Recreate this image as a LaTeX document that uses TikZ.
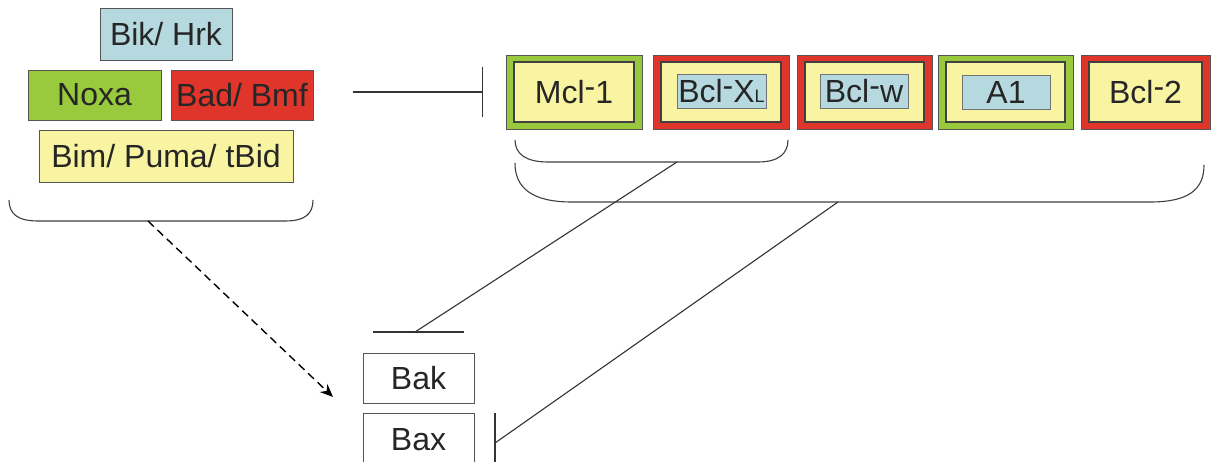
\documentclass[tikz,border=0pt]{standalone}
\usepackage{fontspec}
\setmainfont{Liberation Sans}
\usetikzlibrary{arrows.meta}
\definecolor{lblue}{HTML}{B5D9DF}
\definecolor{lgreen}{HTML}{99C93C}
\definecolor{lred}{HTML}{E0352B}
\definecolor{lyellow}{HTML}{F8F4A2}
\definecolor{edge}{HTML}{555555}
\newcommand{\hy}{\raisebox{0.2em}{-}}
\tikzset{
  box/.style={draw=edge, line width=0.9pt, inner sep=0pt, text=black!85, font=\fontsize{32}{32}\selectfont},
  frame/.style={draw=edge, line width=0.9pt, inner sep=0pt, minimum height=74pt},
  inner/.style={draw=black!75, line width=1.3pt, fill=lyellow, inner sep=0pt, minimum height=60pt, text=black!85, font=\fontsize{32}{32}\selectfont},
  tag/.style={draw=black!55, line width=0.8pt, fill=lblue, inner sep=0pt, minimum height=34pt, text=black!85, font=\fontsize{32}{32}\selectfont},
  conn/.style={line width=1.1pt, draw=black!80},
  brace/.style={line width=1.1pt, draw=black!75},
}
\begin{document}
\begin{tikzpicture}[x=1pt,y=-1pt]
\clip (0,0) rectangle (1211,462);
\fill[white] (0,0) rectangle (1211,462);
% left group
\node[box, fill=lblue, minimum width=132pt, minimum height=52pt] (bik) at (166,34) {Bik/ Hrk};
\node[box, fill=lgreen, minimum width=133pt, minimum height=50pt] (noxa) at (94.5,95) {Noxa};
\node[box, fill=lred, minimum width=142pt, minimum height=50pt] (bad) at (242,95) {Bad/ Bmf};
\node[box, fill=lyellow, minimum width=254pt, minimum height=52pt] (bim) at (166,156) {Bim/ Puma/ tBid};
\draw[brace] (9,200) .. controls (9,214) and (18,221) .. (38,221) -- (285,221) .. controls (305,221) and (313,214) .. (313,200);
\coordinate (lb) at (148,221);
% right frames
\node[frame, fill=lgreen, minimum width=136pt] (mclF) at (574,92) {};
\node[inner, minimum width=120pt] (mcl) at (574,92) {Mcl\hy1};
\node[frame, fill=lred, minimum width=136pt] (bxlF) at (721,92) {};
\node[inner, minimum width=120pt] (bxlY) at (721,92) {};
\node[tag, minimum width=89pt] (bxl) at (721.5,91) {Bcl\hy X{\fontsize{18}{18}\selectfont L}};
\node[frame, fill=lred, minimum width=135pt] (bwF) at (864.5,92) {};
\node[inner, minimum width=119pt] (bwY) at (864.5,92) {};
\node[tag, minimum width=88pt] (bw) at (864,91) {Bcl\hy w};
\node[frame, fill=lgreen, minimum width=135pt] (a1F) at (1005.5,92) {};
\node[inner, minimum width=119pt] (a1Y) at (1005.5,92) {};
\node[tag, minimum width=88pt] (a1) at (1006,92) {A1};
\node[frame, fill=lred, minimum width=129pt] (b2F) at (1145.5,92) {};
\node[inner, minimum width=113pt] (b2) at (1145.5,92) {Bcl\hy2};
% inhibition from left group to frames
\coordinate (inhL) at (353,92);
\coordinate (inhR) at (483,92);
\draw[conn, -{Bar[width=50pt,line width=1.1pt]}] (inhL) -- (inhR);
% right braces
\draw[brace] (515,140) .. controls (515,154) and (526,162) .. (548,162) -- (758,162) .. controls (778,162) and (788,154) .. (788,140);
\draw[brace] (515,163) .. controls (515,188) and (532,202) .. (572,202) -- (1150,202) .. controls (1188,202) and (1204,190) .. (1204,165);
\coordinate (sb) at (677,162);
\coordinate (bb) at (838,202);
% Bak / Bax
\node[box, fill=white, minimum width=111pt, minimum height=50pt] (bak) at (418.5,378) {Bak};
\node[box, fill=white, minimum width=111pt, minimum height=54pt] (bax) at (418.5,440) {\raisebox{-2pt}{Bax}};
\coordinate (bakBar) at (415,332);
\coordinate (baxBar) at (495,443);
\draw[conn] (373,332) -- (464,332);
\draw[conn] (495,413) -- (495,470);
\draw[conn] (sb) -- (bakBar);
\draw[conn] (bb) -- (baxBar);
% dashed activation arrow
\coordinate (arrEnd) at (333,397);
\draw[line width=1.4pt, dash pattern=on 8pt off 5pt, -{Stealth[length=13pt,width=11pt]}] (lb) -- (arrEnd);
\end{tikzpicture}
\end{document}
